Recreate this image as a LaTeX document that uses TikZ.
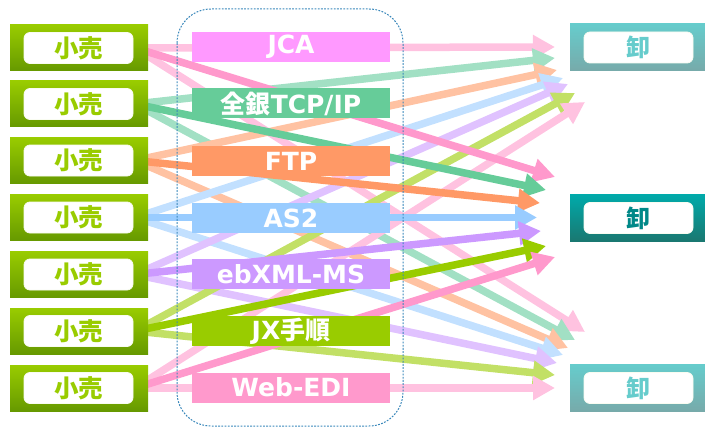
\documentclass[tikz,border=0pt]{standalone}
\usepackage{fontspec}
\setmainfont{DejaVu Sans}
\newfontfamily\jp{Noto Sans CJK JP}
\usetikzlibrary{arrows.meta}
\pgfdeclarelayer{bg}
\pgfsetlayers{bg,main}
\definecolor{grTop}{HTML}{99CC00}
\definecolor{grBot}{HTML}{669900}
\definecolor{tlTop}{HTML}{66CCCC}
\definecolor{tlBot}{HTML}{77AAAA}
\definecolor{tdTop}{HTML}{00AAAA}
\definecolor{tdBot}{HTML}{1A7770}
\definecolor{cJCA}{HTML}{FF99FF}
\definecolor{cZen}{HTML}{66CC99}
\definecolor{cFTP}{HTML}{FF9966}
\definecolor{cAS}{HTML}{99CCFF}
\definecolor{cEb}{HTML}{CC99FF}
\definecolor{cJX}{HTML}{99CC00}
\definecolor{cWeb}{HTML}{FF99CC}
\definecolor{lPink}{HTML}{FFC2E0}
\definecolor{lGreen}{HTML}{A2E0C4}
\definecolor{lOrange}{HTML}{FFC2A2}
\definecolor{lBlue}{HTML}{C2E0FF}
\definecolor{lPurple}{HTML}{E0C2FF}
\definecolor{lJX}{HTML}{C2E066}
\definecolor{dashc}{HTML}{3A88BB}
\definecolor{innerEdge}{HTML}{D4E8A0}
\tikzset{
  leftbox/.style={rectangle, minimum width=138pt, minimum height=46pt, top color=grTop, bottom color=grBot, draw=none, inner sep=0pt},
  rightbox/.style={rectangle, minimum width=135pt, minimum height=47pt, draw=none, inner sep=0pt},
  lightbox/.style={rightbox, top color=tlTop, bottom color=tlBot},
  darkbox/.style={rightbox, top color=tdTop, bottom color=tdBot},
  innerbox/.style={rectangle, rounded corners=6pt, fill=white, draw=white!85!innerEdge, line width=0.8pt, minimum width=109pt, minimum height=31pt, inner sep=0pt},
  kouri/.style={innerbox, text=grTop, font=\jp\bfseries\fontsize{24.5}{24.5}\selectfont},
  oroshi/.style={innerbox, font=\jp\bfseries\fontsize{24}{24}\selectfont},
  proto/.style={rectangle, minimum width=198pt, minimum height=30pt, inner sep=0pt, text=white, font=\bfseries\fontsize{25}{25}\selectfont},
  conn/.style={line width=7.5pt, -{Triangle[width=23pt,length=22pt]}},
  frame/.style={draw=dashc, line width=1pt, dash pattern=on 1.8pt off 1.4pt, rounded corners=34pt}
}
\begin{document}
\begin{tikzpicture}[x=1pt,y=-1pt]
\useasboundingbox (0,0) rectangle (705,428);
% left boxes
\foreach \i/\y in {1/48,2/104,3/160.5,4/217.5,5/274.5,6/331,7/388}{
  \node[leftbox] (L\i) at (79,\y) {};
  \node[kouri] (K\i) at (78.5,\y) {小売};
}
% right boxes
\node[lightbox] (R1) at (637.5,47.5) {};
\node[oroshi, text=tlTop] (O1) at (638.5,47.5) {卸};
\node[darkbox] (R2) at (637.5,218) {};
\node[oroshi, text=tdTop!80!black] (O2) at (638.5,218) {卸};
\node[lightbox] (R3) at (637.5,388) {};
\node[oroshi, text=tlTop] (O3) at (638.5,388) {卸};
% arrow end points
\foreach \n/\x/\y in {t1/555/47,t2/555/58,t3/557/70,t4/563/78,t5/568/84,t6/575/93,t7/585/102,
  m1/555/177,m2/546/190,m3/540/203,m4/537/217.5,m5/541/231,m6/546/246,m7/555/257,
  b1/585/332,b2/575/340,b3/568/348,b4/563/355,b5/557/363,b6/555/375,b7/555/388}{
  \coordinate (\n) at (\x,\y);
}
% protocol boxes
\node[proto, fill=cJCA] (P1) at (291,47) {JCA};
\node[proto, fill=cZen] (P2) at (291,103.5) {{\jp 全銀}TCP/IP};
\node[proto, fill=cFTP] (P3) at (291,161) {FTP};
\node[proto, fill=cAS] (P4) at (291,218) {AS2};
\node[proto, fill=cEb] (P5) at (291,274) {ebXML-MS};
\node[proto, fill=cJX] (P6) at (291,331) {JX{\jp 手順}};
\node[proto, fill=cWeb] (P7) at (291,387.5) {Web-EDI};
% dashed frame
\draw[frame] (177,9) rectangle (403,426);
% connectors
\begin{pgfonlayer}{bg}
\foreach \i/\lc in {1/lPink,2/lGreen,3/lOrange,4/lBlue,5/lPurple,6/lJX,7/lPink}{
  \draw[conn, draw=\lc, fill=\lc] ([xshift=-13pt]L\i.east) -- (t\i);
  \draw[conn, draw=\lc, fill=\lc] ([xshift=-13pt]L\i.east) -- (b\i);
}
\foreach \i/\c in {1/cWeb,2/cZen,3/cFTP,4/cAS,5/cEb,6/cJX,7/cWeb}{
  \draw[conn, draw=\c, fill=\c] ([xshift=-13pt]L\i.east) -- (m\i);
}
\end{pgfonlayer}
\end{tikzpicture}
\end{document}
